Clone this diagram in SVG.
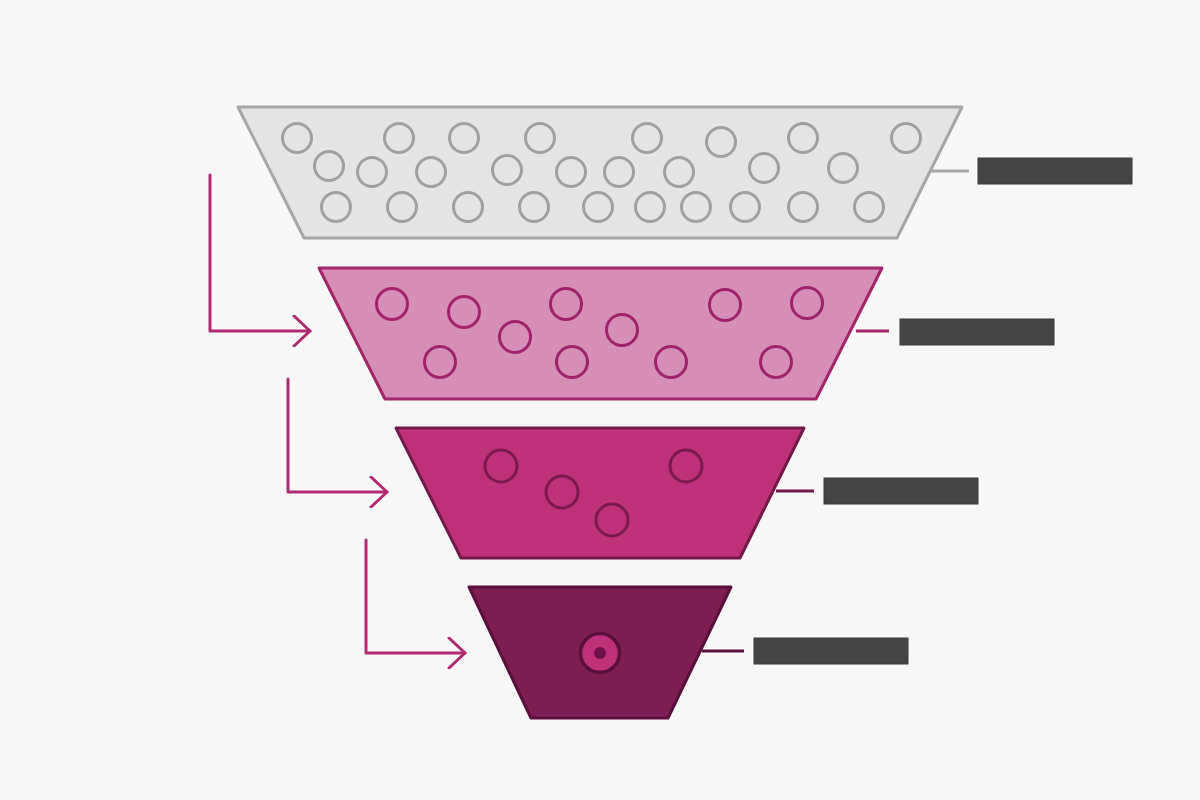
<svg xmlns="http://www.w3.org/2000/svg" width="1200" height="800" viewBox="0 0 1200 800">
  <defs>
    <style>
      .t1 { fill: #e4e4e4; stroke: #a6a6a6; stroke-width: 3; stroke-linejoin: round; }
      .t2 { fill: #d68db6; stroke: #a3266b; stroke-width: 3; stroke-linejoin: round; }
      .t3 { fill: #c0317c; stroke: #741849; stroke-width: 3; stroke-linejoin: round; }
      .t4 { fill: #7f1d55; stroke: #5a0f3c; stroke-width: 3; stroke-linejoin: round; }
      .c1 { fill: none; stroke: #a0a0a0; stroke-width: 3; }
      .c2 { fill: none; stroke: #a0226a; stroke-width: 3; }
      .c3 { fill: none; stroke: #7a1a4d; stroke-width: 3; }
      .lead1 { stroke: #a6a6a6; stroke-width: 3; fill: none; }
      .lead2 { stroke: #a3266b; stroke-width: 3; fill: none; }
      .lead3 { stroke: #741849; stroke-width: 3; fill: none; }
      .lead4 { stroke: #5a0f3c; stroke-width: 3; fill: none; }
      .bar { fill: #444444; stroke: #3a3a3a; stroke-width: 1; }
      .flow { stroke: #b02a72; stroke-width: 3; fill: none; stroke-linecap: round; stroke-linejoin: round; }
    </style>
    <marker id="chev" viewBox="0 0 20 32" refX="18" refY="16" markerWidth="20" markerHeight="32" markerUnits="userSpaceOnUse" orient="auto">
      <path d="M2,1 L18,16 L2,31" fill="none" stroke="#b02a72" stroke-width="3" stroke-linecap="round" stroke-linejoin="round"/>
    </marker>
  </defs>
  <rect x="0" y="0" width="1200" height="800" fill="#f7f7f7"/>

  <g id="tier1">
    <polygon class="t1" points="238,107 962,107 897,238 304,238"/>
    <g>
      <circle class="c1" cx="297" cy="138" r="14.5"/>
      <circle class="c1" cx="399" cy="138" r="14.5"/>
      <circle class="c1" cx="464" cy="138" r="14.5"/>
      <circle class="c1" cx="540" cy="138" r="14.5"/>
      <circle class="c1" cx="647" cy="138" r="14.5"/>
      <circle class="c1" cx="721" cy="142" r="14.5"/>
      <circle class="c1" cx="803" cy="138" r="14.5"/>
      <circle class="c1" cx="906" cy="138" r="14.5"/>
      <circle class="c1" cx="329" cy="166" r="14.5"/>
      <circle class="c1" cx="372" cy="172" r="14.5"/>
      <circle class="c1" cx="431" cy="172" r="14.5"/>
      <circle class="c1" cx="507" cy="170" r="14.5"/>
      <circle class="c1" cx="571" cy="172" r="14.5"/>
      <circle class="c1" cx="619" cy="172" r="14.5"/>
      <circle class="c1" cx="679" cy="172" r="14.5"/>
      <circle class="c1" cx="764" cy="168" r="14.5"/>
      <circle class="c1" cx="843" cy="168" r="14.5"/>
      <circle class="c1" cx="336" cy="207" r="14.5"/>
      <circle class="c1" cx="402" cy="207" r="14.5"/>
      <circle class="c1" cx="468" cy="207" r="14.5"/>
      <circle class="c1" cx="534" cy="207" r="14.5"/>
      <circle class="c1" cx="598" cy="207" r="14.5"/>
      <circle class="c1" cx="650" cy="207" r="14.5"/>
      <circle class="c1" cx="696" cy="207" r="14.5"/>
      <circle class="c1" cx="745" cy="207" r="14.5"/>
      <circle class="c1" cx="803" cy="207" r="14.5"/>
      <circle class="c1" cx="869" cy="207" r="14.5"/>
    </g>
    <rect class="bar" x="978" y="158" width="154" height="26"/>
  </g>

  <g id="tier2">
    <polygon class="t2" points="319,268 882,268 816,399 385,399"/>
    <g>
      <circle class="c2" cx="392" cy="304" r="15.5"/>
      <circle class="c2" cx="464" cy="312" r="15.5"/>
      <circle class="c2" cx="566" cy="304" r="15.5"/>
      <circle class="c2" cx="515" cy="337" r="15.5"/>
      <circle class="c2" cx="622" cy="330" r="15.5"/>
      <circle class="c2" cx="725" cy="305" r="15.5"/>
      <circle class="c2" cx="807" cy="303" r="15.5"/>
      <circle class="c2" cx="440" cy="362" r="15.5"/>
      <circle class="c2" cx="572" cy="362" r="15.5"/>
      <circle class="c2" cx="671" cy="362" r="15.5"/>
      <circle class="c2" cx="776" cy="362" r="15.5"/>
    </g>
    <rect class="bar" x="900" y="319" width="154" height="26"/>
  </g>

  <g id="tier3">
    <polygon class="t3" points="396,428 804,428 740,558 461,558"/>
    <g>
      <circle class="c3" cx="501" cy="466" r="16"/>
      <circle class="c3" cx="562" cy="492" r="16"/>
      <circle class="c3" cx="612" cy="520" r="16"/>
      <circle class="c3" cx="686" cy="466" r="16"/>
    </g>
    <rect class="bar" x="824" y="478" width="154" height="26"/>
  </g>

  <g id="tier4">
    <polygon class="t4" points="469,587 731,587 668,718 531,718"/>
    <circle cx="600" cy="653" r="19.5" fill="#c0317c" stroke="#5a0f3c" stroke-width="3.5"/>
    <circle cx="600" cy="653" r="6" fill="#6e1446"/>
    <rect class="bar" x="754" y="638" width="154" height="26"/>
  </g>

  <g id="connectors">
    <line class="lead1" x1="931" y1="171" x2="969" y2="171"/>
    <line class="lead2" x1="856" y1="331" x2="889" y2="331"/>
    <line class="lead3" x1="776" y1="491" x2="814" y2="491"/>
    <line class="lead4" x1="702" y1="651" x2="744" y2="651"/>
    <path class="flow" d="M210,175 L210,331 L310,331" marker-end="url(#chev)"/>
    <path class="flow" d="M288,379 L288,492 L387,492" marker-end="url(#chev)"/>
    <path class="flow" d="M366,540 L366,653 L465,653" marker-end="url(#chev)"/>
  </g>
</svg>
